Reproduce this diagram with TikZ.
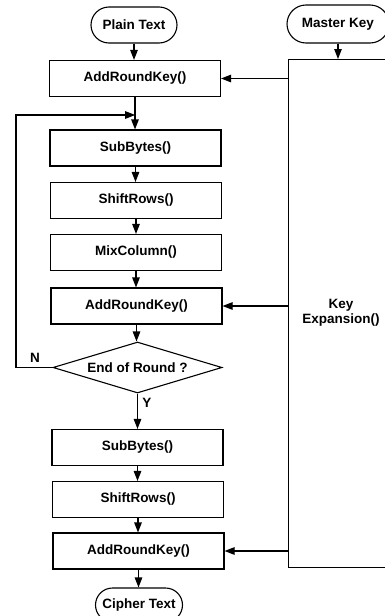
\documentclass[tikz,border=0pt]{standalone}
\usepackage{fontspec}
\setmainfont{Liberation Sans}
\usetikzlibrary{shapes.geometric,shapes.misc,arrows.meta}
\begin{document}
\begin{tikzpicture}[x=1pt,y=-1pt,
  every node/.style={font=\bfseries\fontsize{13.5}{15}\selectfont},
  proc/.style={draw,line width=1.1pt,rectangle,minimum width=171pt,minimum height=36pt,inner sep=0pt},
  term/.style={draw,line width=1.1pt,rounded rectangle,minimum height=36pt,inner sep=0pt},
  dec/.style={draw,line width=1.1pt,diamond,shape aspect=3.31,minimum width=169pt,minimum height=51pt,inner sep=0pt},
  arr/.style={line width=1.1pt,-{Triangle[length=10pt,width=7.5pt]}}]
\useasboundingbox (0,0) rectangle (384,616);
\node[term,minimum width=86pt] (pt) at (134,25) {Plain Text};
\node[term,minimum width=102pt,minimum height=38pt] (mk) at (338,24) {Master Key};
\node[proc] (ak1) at (135,78.5) {AddRoundKey()};
\node[proc] (sb1) at (135.5,148) {SubBytes()};
\node[proc] (sr1) at (136,200.5) {ShiftRows()};
\node[proc] (mc) at (136,252.5) {MixColumn()};
\node[proc] (ak2) at (136.5,306) {AddRoundKey()};
\node[dec] (d) at (137.5,367.5) {End of Round ?};
\node[proc] (sb2) at (137.5,447.5) {SubBytes()};
\node[proc] (sr2) at (138,499.5) {ShiftRows()};
\node[proc] (ak3) at (138.5,551) {AddRoundKey()};
\node[term,minimum width=87pt,minimum height=34pt] (ct) at (139,605) {Cipher Text};
\node[draw,line width=1.1pt,rectangle,minimum width=100pt,minimum height=508pt,anchor=north west,inner sep=0pt] (ke) at (288,59) {};
\node[align=center] (ketext) at (341,313) {Key\\[0pt]Expansion()};
\node (n) at (35,358) {N};
\node (y) at (147,403) {Y};
\coordinate (j) at (135.2,115);
\coordinate (lc) at (16,367.5);
\draw[arr] (pt.south) -- (pt.south |- ak1.north);
\draw[arr] (mk.south) -- (mk.south |- ke.north);
\draw[arr] (ak1.south) -- (ak1.south |- sb1.north);
\draw[arr] (sb1.south) -- (sb1.south |- sr1.north);
\draw[arr] (sr1.south) -- (sr1.south |- mc.north);
\draw[arr] (mc.south) -- (mc.south |- ak2.north);
\draw[arr] (ak2.south) -- (ak2.south |- d.north);
\draw[arr] (d.south) -- (d.south |- sb2.north);
\draw[arr] (sb2.south) -- (sb2.south |- sr2.north);
\draw[arr] (sr2.south) -- (sr2.south |- ak3.north);
\draw[arr] (ak3.south) -- (ak3.south |- ct.north);
\draw[arr] (d.west) -- (lc) |- (j);
\draw[arr] (ke.west |- ak1) -- (ak1.east);
\draw[arr] (ke.west |- ak2) -- (ak2.east);
\draw[arr] (ke.west |- ak3) -- (ak3.east);
\end{tikzpicture}
\end{document}
